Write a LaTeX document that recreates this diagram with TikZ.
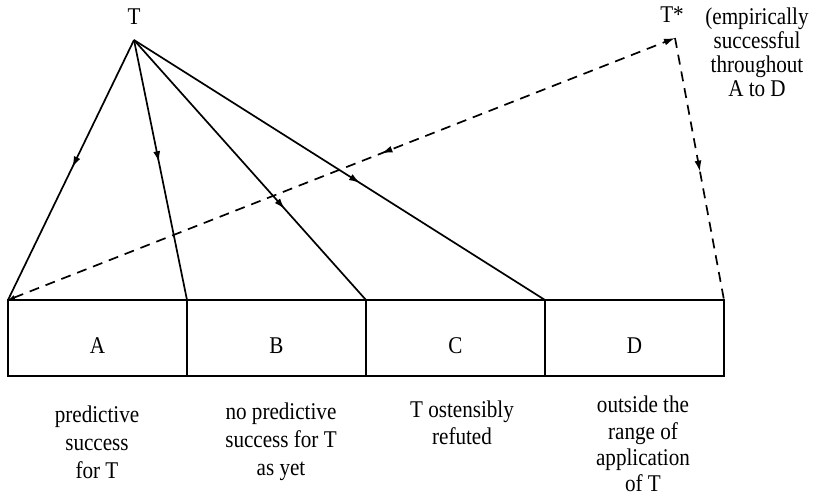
\documentclass[tikz,border=0pt]{standalone}
\usepackage{fontspec}
\setmainfont{Liberation Serif}[FakeStretch=0.88]
\usetikzlibrary{arrows.meta,decorations.markings}
\begin{document}
\begin{tikzpicture}[x=1pt,y=-1pt,line width=1.7pt,
  midarrow/.style={postaction={decorate},decoration={markings,
      mark=at position #1 with {\arrow{Latex[length=11pt,width=7pt]}}}},
  midarrowrev/.style={postaction={decorate},decoration={markings,
      mark=at position #1 with {\arrowreversed{Latex[length=11pt,width=7pt]}}}},
  dashline/.style={dash pattern=on 10pt off 7pt},
  cell/.style={draw,line width=1.8pt,minimum width=179pt,minimum height=76pt,inner sep=0pt,outer sep=0pt},
  lbl/.style={align=center,font=\fontsize{24}{28}\selectfont,inner sep=0pt}]
\useasboundingbox (0,0) rectangle (813,499);
\coordinate (Tp) at (134,40);
\coordinate (Ts) at (675,38);
\node[lbl] (T) at (134,17) {T};
\node[lbl] (Tstar) at (672,15) {T*};
\node[lbl,font=\fontsize{24}{24}\selectfont] (emp) at (757,52) {(empirically\\successful\\throughout\\A to D};
\node[cell] (A) at (97.5,338) {};
\node[cell] (B) at (276.5,338) {};
\node[cell] (C) at (455.5,338) {};
\node[cell] (D) at (634.5,338) {};
\node[lbl] (a) at (97.5,346) {A};
\node[lbl] (b) at (276.5,346) {B};
\node[lbl] (c) at (455.5,346) {C};
\node[lbl] (d) at (634.5,346) {D};
\draw[midarrow=0.49] (Tp) -- (A.north west);
\draw[midarrow=0.47] (Tp) -- (A.north east);
\draw[midarrow=0.65] (Tp) -- (B.north east);
\draw[midarrow=0.55] (Tp) -- (C.north east);
\draw[dashline,midarrowrev=0.56,{Latex[length=7pt,width=5pt]}-{Latex[length=11pt,width=7pt]}] (A.north west) -- (Ts);
\draw[dashline,midarrow=0.51] (Ts) -- (D.north east);
\node[lbl] (la) at (97,442) {predictive\\success\\for T};
\node[lbl] (lb) at (281,442) {no predictive\\success for T\\as yet};
\node[lbl,font=\fontsize{24}{27}\selectfont] (lc) at (462,423) {T ostensibly\\refuted};
\node[lbl,font=\fontsize{24}{26.3}\selectfont] (ld) at (643,444) {outside the\\range of\\application\\of T};
\end{tikzpicture}
\end{document}
